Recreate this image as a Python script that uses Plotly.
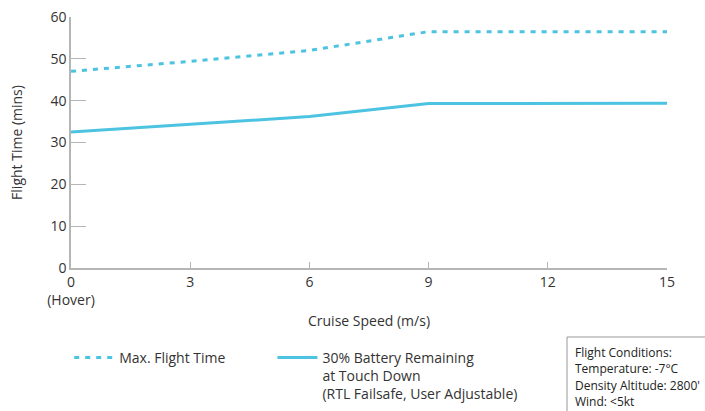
import plotly.graph_objects as go

speed = [0, 3, 6, 9, 12, 15]
max_flight = [47.0, 49.4, 52.0, 56.5, 56.5, 56.5]
rtl_flight = [32.5, 34.3, 36.2, 39.3, 39.4, 39.4]
x_tick_vals = [0, 3, 6, 9, 12, 15]
x_tick_text = ["0<br>(Hover)", "3", "6", "9", "12", "15"]
y_tick_vals = [0, 10, 20, 30, 40, 50, 60]
conditions = ["Flight Conditions:", "Temperature: -7°C", "Density Altitude: 2800'", "Wind: <5kt"]

LINE = "#4CC3E0"
AX = "#B5B5B5"
TXT = "#333333"
FONT = "Open Sans"

fig = go.Figure()
fig.add_trace(go.Scatter(x=speed, y=max_flight, mode="lines", name="Max. Flight Time",
                         line=dict(color=LINE, width=3, dash="5px,6px"), legend="legend"))
fig.add_trace(go.Scatter(x=speed, y=rtl_flight, mode="lines",
                         name="30% Battery Remaining<br>at Touch Down<br>(RTL Failsafe, User Adjustable)",
                         line=dict(color=LINE, width=3), legend="legend2"))

leg_common = dict(orientation="v", yanchor="top", xanchor="left", valign="top",
                  xref="paper", yref="container",
                  font=dict(size=14, color=TXT), itemwidth=40, bgcolor="rgba(0,0,0,0)")

fig.update_layout(
    width=705, height=411,
    margin=dict(l=71, r=38, t=17, b=143),
    paper_bgcolor="white", plot_bgcolor="white",
    font=dict(family=FONT, size=14, color=TXT),
    showlegend=True,
    legend=dict(x=-0.003, y=1 - 342 / 411, **leg_common),
    legend2=dict(x=0.338, y=1 - 342 / 411, **leg_common),
    xaxis=dict(range=[0, 15], tickvals=x_tick_vals, ticktext=x_tick_text,
               showgrid=False, zeroline=False, showline=True, linecolor=AX, linewidth=1.5,
               ticks="inside", ticklen=6, tickcolor=AX, tickwidth=1, automargin=False,
               title=dict(text="Cruise Speed (m/s)", standoff=8, font=dict(size=14)),
               tickfont=dict(size=14)),
    yaxis=dict(range=[0, 60], tickvals=y_tick_vals,
               showgrid=False, zeroline=False, showline=True, linecolor=AX, linewidth=1.5,
               ticks="inside", ticklen=15, tickcolor=AX, tickwidth=1, automargin=False,
               title=dict(text="Flight Time (mins)", standoff=25, font=dict(size=14)),
               tickfont=dict(size=14)),
)

# Flight conditions box (layout decoration in paper coordinates)
def px_x(px):
    return (px - 71) / 596

def px_y(py):
    return (268 - py) / 251

fig.add_shape(type="rect", xref="paper", yref="paper",
              x0=px_x(567), x1=px_x(708), y0=px_y(337), y1=px_y(416),
              line=dict(color="#999999", width=1), fillcolor="white", layer="above")

for i, line_text in enumerate(conditions):
    fig.add_annotation(
        xref="paper", yref="paper", x=px_x(573), y=px_y(352 + 16.5 * i),
        xanchor="left", yanchor="middle", text=line_text, showarrow=False,
        font=dict(size=12, color="#222222"),
    )

fig.write_html("out.html", config={"displayModeBar": False},
               post_script="document.body.style.margin='0';")
